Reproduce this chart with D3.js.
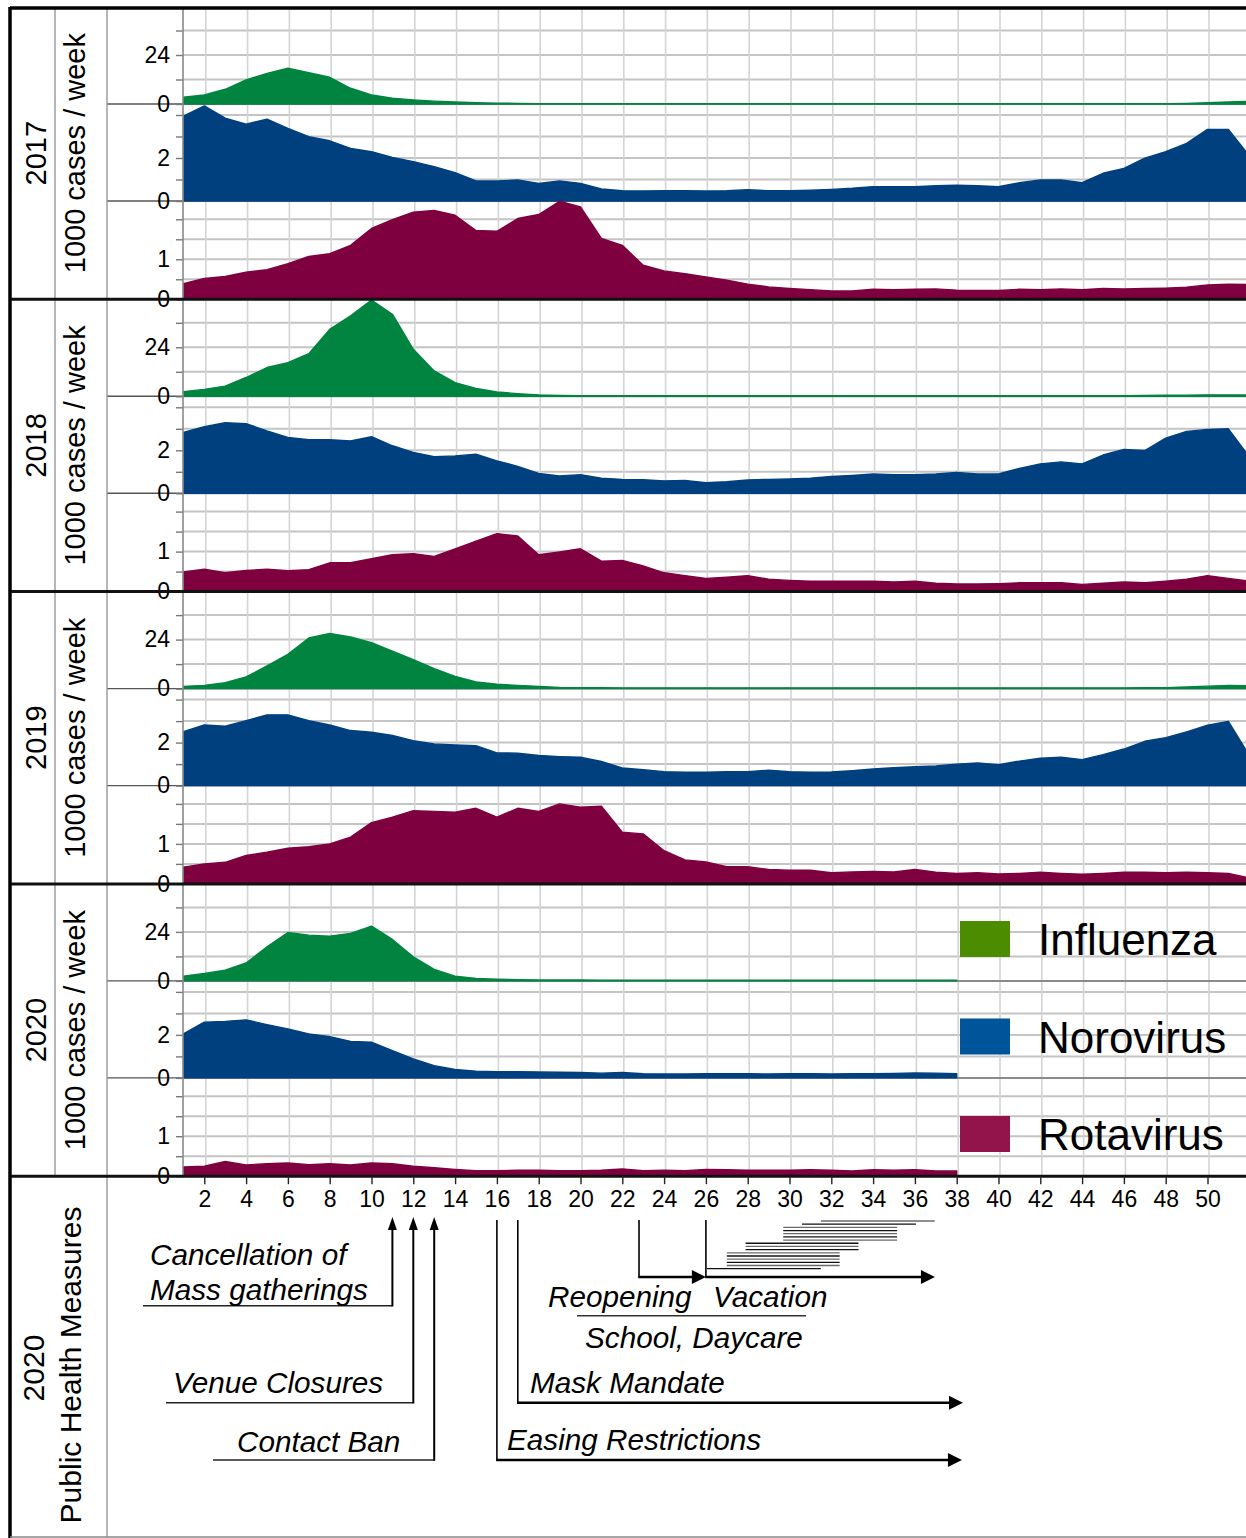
<!DOCTYPE html>
<html><head><meta charset="utf-8">
<script src="https://cdn.jsdelivr.net/npm/d3@7"></script>
<style>
body{margin:0;background:#fff}
svg{display:block}
text{font-family:"Liberation Sans", Arial, Helvetica, sans-serif}
</style>
</head><body>
<svg id="chart" width="1246" height="1538"></svg>
<script>
// ---------------- DATA (1000 cases / week, by calendar week) ----------------
const years = ["2017", "2018", "2019", "2020"];
const viruses = ["Influenza", "Norovirus", "Rotavirus"];
const xTickLabels = [2,4,6,8,10,12,14,16,18,20,22,24,26,28,30,32,34,36,38,40,42,44,46,48,50];

const influenza2017 = [3.3,4.4,7.2,11.8,15,17.5,15.3,13.1,7.7,4.4,2.8,2.0,1.4,1.0,0.6,0.4,0.3,0.2,0.2,0.2,0.2,0.2,0.2,0.2,0.2,0.2,0.2,0.2,0.2,0.2,0.2,0.2,0.2,0.2,0.2,0.2,0.2,0.2,0.2,0.2,0.2,0.2,0.2,0.2,0.2,0.2,0.2,0.2,0.3,0.6,1.0,1.3];
const norovirus2017 = [3.95,4.42,3.85,3.57,3.81,3.38,2.99,2.80,2.45,2.29,2.03,1.83,1.6,1.32,0.93,0.93,0.98,0.82,0.93,0.82,0.56,0.48,0.47,0.48,0.48,0.47,0.48,0.52,0.48,0.48,0.5,0.54,0.59,0.67,0.67,0.67,0.71,0.74,0.71,0.67,0.85,0.98,0.98,0.85,1.29,1.52,1.99,2.29,2.68,3.33,3.33,2.1];
const rotavirus2017 = [0.39,0.52,0.57,0.68,0.74,0.89,1.07,1.14,1.35,1.77,1.99,2.18,2.22,2.1,1.72,1.7,2.02,2.12,2.45,2.31,1.52,1.35,0.85,0.71,0.64,0.56,0.48,0.38,0.31,0.27,0.24,0.21,0.21,0.25,0.24,0.25,0.26,0.23,0.22,0.22,0.25,0.24,0.26,0.24,0.27,0.26,0.27,0.28,0.3,0.36,0.38,0.37];

const influenza2018 = [2.3,3.4,5.0,9.2,14.1,16.5,20.9,32.8,39.4,47.1,40.2,23,12.4,6.7,3.8,2.1,1.3,0.7,0.4,0.3,0.3,0.3,0.3,0.3,0.3,0.3,0.3,0.3,0.3,0.3,0.3,0.3,0.3,0.3,0.3,0.3,0.3,0.3,0.3,0.3,0.3,0.3,0.3,0.3,0.3,0.3,0.4,0.5,0.6,0.7,0.7,0.6];
const norovirus2018 = [2.83,3.1,3.28,3.24,2.9,2.6,2.49,2.49,2.44,2.63,2.21,1.9,1.7,1.74,1.82,1.51,1.25,0.92,0.81,0.86,0.7,0.65,0.63,0.58,0.6,0.49,0.54,0.62,0.65,0.67,0.7,0.78,0.83,0.9,0.87,0.87,0.9,0.97,0.9,0.9,1.16,1.37,1.46,1.37,1.78,2.04,1.99,2.57,2.88,2.97,3.0,1.7];
const rotavirus2018 = [0.49,0.56,0.47,0.53,0.56,0.52,0.55,0.72,0.72,0.82,0.92,0.95,0.88,1.07,1.26,1.45,1.39,0.92,0.99,1.07,0.76,0.78,0.64,0.47,0.4,0.33,0.36,0.4,0.31,0.28,0.26,0.26,0.26,0.26,0.24,0.26,0.21,0.19,0.19,0.2,0.22,0.22,0.22,0.18,0.21,0.24,0.22,0.26,0.31,0.4,0.33,0.26];

const influenza2019 = [1.1,1.6,2.9,5.7,11.1,16.8,24.8,27,25.3,22.5,18.3,14.2,9.8,6.0,3.3,2.1,1.6,1.1,0.6,0.5,0.4,0.3,0.3,0.3,0.3,0.3,0.3,0.3,0.3,0.3,0.3,0.3,0.3,0.3,0.3,0.3,0.3,0.3,0.3,0.3,0.3,0.3,0.3,0.3,0.3,0.3,0.4,0.5,0.8,1.2,1.5,1.4];
const norovirus2019 = [2.51,2.82,2.76,3.02,3.29,3.29,3.02,2.82,2.56,2.48,2.33,2.09,1.94,1.89,1.86,1.52,1.51,1.4,1.35,1.32,1.12,0.82,0.74,0.65,0.62,0.62,0.65,0.65,0.72,0.65,0.62,0.63,0.69,0.77,0.83,0.88,0.91,1.0,1.05,0.97,1.14,1.27,1.32,1.21,1.44,1.7,2.06,2.23,2.5,2.81,2.99,1.4];
const rotavirus2019 = [0.42,0.5,0.54,0.71,0.79,0.89,0.93,1.0,1.17,1.53,1.67,1.83,1.81,1.79,1.89,1.67,1.89,1.81,2.0,1.92,1.94,1.29,1.25,0.83,0.6,0.55,0.43,0.43,0.36,0.34,0.34,0.28,0.3,0.31,0.3,0.36,0.29,0.26,0.28,0.25,0.26,0.29,0.26,0.24,0.26,0.29,0.29,0.28,0.29,0.28,0.26,0.15];

const influenza2020 = [2.3,3.6,5.2,8.8,16.7,23.7,22.4,21.9,23.2,26.8,20.3,11.8,5.6,2.3,1.2,0.8,0.6,0.5,0.5,0.5,0.4,0.4,0.4,0.4,0.4,0.4,0.4,0.4,0.4,0.4,0.4,0.4,0.4,0.4,0.4,0.4,0.4,0.4];
const norovirus2020 = [2.05,2.59,2.63,2.7,2.48,2.28,2.05,1.92,1.7,1.66,1.27,0.88,0.57,0.39,0.31,0.29,0.29,0.28,0.26,0.25,0.22,0.25,0.19,0.18,0.18,0.19,0.19,0.19,0.18,0.19,0.19,0.18,0.19,0.2,0.21,0.23,0.22,0.2];
const rotavirus2020 = [0.23,0.25,0.37,0.28,0.31,0.33,0.29,0.31,0.28,0.33,0.31,0.25,0.21,0.17,0.14,0.14,0.15,0.15,0.14,0.14,0.15,0.18,0.14,0.15,0.14,0.17,0.16,0.15,0.15,0.15,0.16,0.15,0.13,0.16,0.15,0.16,0.13,0.13];

const fluTicks = [0, 24], fluGrid = [12, 24, 36];
const noroTicks = [0, 2], noroGrid = [1, 2, 3, 4];
const rotaTicks = [0, 1], rotaGrid = [0.5, 1, 1.5, 2];

// 2020 public health measures (calendar weeks)
const eventLabels = ["Cancellation of|Mass gatherings", "Venue Closures", "Contact Ban", "Easing Restrictions", "Mask Mandate", "Reopening", "Vacation"];
const eventWeeks = [11, 12, 13, 16, 17, 22.8, 26];
const eventEndWeeks = [null, null, null, 38.25, 38.3, 26, 36.96];
// summer school vacation of the 16 German states (start / end week)
const vacationStates = ["BW","BY","NI","HB","SN","ST","TH","HE","RP","SL","SH","HH","BB","BE","NW","MV"];
const vacationStart = [31.5,30.6,29.7,29.7,29.7,29.7,29.7,27.9,27.9,27.9,27.0,27.0,27.0,27.0,27.0,26.05];
const vacationEnd   = [36.95,36.05,35.15,35.15,35.15,35.15,35.15,33.3,33.3,33.3,32.4,32.4,32.4,32.4,32.4,31.5];

const seriesByYear = [
  [influenza2017, norovirus2017, rotavirus2017],
  [influenza2018, norovirus2018, rotavirus2018],
  [influenza2019, norovirus2019, rotavirus2019],
  [influenza2020, norovirus2020, rotavirus2020]
];
const areaColors = ["#00843f", "#00407f", "#7f003f"];
const legendColors = ["#4c8c00", "#00559a", "#93144b"];

// ---------------- LAYOUT ----------------
const svg = d3.select("#chart");
const W = 1246;
const plotL = 183, plotR = 1246;
const panelH = 292.3, top0 = 7;
const panelTop = i => top0 + panelH * i;
const chartBottom = panelTop(4);
const x = d3.scaleLinear().domain([1, 52]).range([183.4, 183.4 + 51 * 20.9]);

function yScales(i) {
  const t = panelTop(i);
  return [
    d3.scaleLinear().domain([0, 24]).range([t + 97, t + 48]),
    d3.scaleLinear().domain([0, 2]).range([t + 194, t + 151]),
    d3.scaleLinear().domain([0, 1]).range([t + panelH, t + panelH - 40])
  ];
}
const gridVals = [fluGrid, noroGrid, rotaGrid];
const tickVals = [fluTicks, noroTicks, rotaTicks];

svg.append("rect").attr("width", W).attr("height", 1538).attr("fill", "#fff");
svg.append("clipPath").attr("id", "plotclip").append("rect")
  .attr("x", plotL).attr("y", top0).attr("width", plotR - plotL).attr("height", chartBottom - top0);

const gGrid = svg.append("g");
// horizontal grid
years.forEach((yr, i) => {
  const ys = yScales(i);
  ys.forEach((s, k) => {
    gGrid.selectAll(null).data(gridVals[k]).enter().append("line")
      .attr("x1", plotL).attr("x2", plotR)
      .attr("y1", d => s(d)).attr("y2", d => s(d))
      .attr("stroke", "#c4c4c4").attr("stroke-width", 2);
  });
});
// vertical grid
gGrid.selectAll(null).data(xTickLabels).enter().append("line")
  .attr("x1", d => x(d) + 1.5).attr("x2", d => x(d) + 1.5)
  .attr("y1", top0).attr("y2", chartBottom)
  .attr("stroke", "#d4d4d4").attr("stroke-width", 1.6);

// zero baselines
years.forEach((yr, i) => {
  const ys = yScales(i);
  [0, 1].forEach(k => {
    svg.append("line").attr("x1", plotL).attr("x2", plotR)
      .attr("y1", ys[k](0)).attr("y2", ys[k](0))
      .attr("stroke", "#8a8a8a").attr("stroke-width", 2);
    svg.append("line").attr("x1", 107).attr("x2", plotL)
      .attr("y1", ys[k](0)).attr("y2", ys[k](0))
      .attr("stroke", "#555").attr("stroke-width", 1.4);
  });
});

// areas
const gAreas = svg.append("g").attr("clip-path", "url(#plotclip)");
years.forEach((yr, i) => {
  const ys = yScales(i);
  seriesByYear[i].forEach((vals, k) => {
    const s = ys[k];
    const area = d3.area().curve(d3.curveLinear)
      .x((d, j) => x(j + 1)).y0(s(0)).y1(d => s(d));
    gAreas.append("path").datum(vals).attr("d", area)
      .attr("fill", areaColors[k]).attr("stroke", areaColors[k])
      .attr("stroke-width", 1.4).attr("stroke-linejoin", "round");
  });
});

// y axes
years.forEach((yr, i) => {
  const ys = yScales(i);
  ys.forEach((s, k) => {
    const vals = Array.from(new Set(gridVals[k].concat(tickVals[k]))).filter(v => s(v) >= panelTop(i) - 1);
    const ax = d3.axisLeft(s).tickValues(vals).tickSize(7).tickPadding(6)
      .tickFormat(v => tickVals[k].includes(v) ? String(v) : "");
    const g = svg.append("g").attr("transform", `translate(${plotL},0)`).call(ax);
    g.select(".domain").remove();
    g.selectAll("line").attr("stroke", "#777").attr("stroke-width", 1.4);
    g.selectAll("text").attr("font-size", 23).attr("fill", "#000")
      .attr("font-family", '"Liberation Sans", Arial, sans-serif');
  });
});

// frame lines
svg.append("line").attr("x1", plotL).attr("x2", plotL).attr("y1", top0).attr("y2", chartBottom)
  .attr("stroke", "#888").attr("stroke-width", 1.6);
svg.append("line").attr("x1", 55).attr("x2", 55).attr("y1", top0).attr("y2", chartBottom)
  .attr("stroke", "#999").attr("stroke-width", 1.4);
svg.append("line").attr("x1", 107).attr("x2", 107).attr("y1", top0).attr("y2", 1537)
  .attr("stroke", "#999").attr("stroke-width", 1.4);
[1, 2, 3, 4].forEach(i => {
  svg.append("line").attr("x1", 10).attr("x2", W).attr("y1", panelTop(i)).attr("y2", panelTop(i))
    .attr("stroke", "#111").attr("stroke-width", 3);
});
svg.append("line").attr("x1", 10).attr("x2", W).attr("y1", top0 + 1).attr("y2", top0 + 1)
  .attr("stroke", "#000").attr("stroke-width", 3.5);
svg.append("line").attr("x1", 10).attr("x2", 10).attr("y1", top0).attr("y2", 1538)
  .attr("stroke", "#000").attr("stroke-width", 3.5);
svg.append("line").attr("x1", 10).attr("x2", W).attr("y1", 1537).attr("y2", 1537)
  .attr("stroke", "#888").attr("stroke-width", 1.5);

// x axis
const xAx = d3.axisBottom(x).tickValues(xTickLabels).tickSize(8).tickPadding(6).tickFormat(d3.format("d"));
const gx = svg.append("g").attr("transform", `translate(0,${chartBottom})`).call(xAx);
gx.select(".domain").remove();
gx.selectAll("line").attr("stroke", "#222").attr("stroke-width", 1.4);
gx.selectAll("text").attr("font-size", 23).attr("fill", "#000")
  .attr("font-family", '"Liberation Sans", Arial, sans-serif');

// rotated row labels
years.forEach((yr, i) => {
  const cy = panelTop(i) + panelH / 2;
  svg.append("text").attr("transform", `translate(46,${cy}) rotate(-90)`)
    .attr("text-anchor", "middle").attr("font-size", 29).text(yr);
  svg.append("text").attr("transform", `translate(85,${cy}) rotate(-90)`)
    .attr("text-anchor", "middle").attr("font-size", 29).text("1000 cases / week");
});
svg.append("text").attr("transform", `translate(44,1368) rotate(-90)`)
  .attr("text-anchor", "middle").attr("font-size", 30).text("2020");
svg.append("text").attr("transform", `translate(81,1365) rotate(-90)`)
  .attr("text-anchor", "middle").attr("font-size", 30).text("Public Health Measures");

// legend
const legY = d3.scaleLinear().domain([0, 2]).range([921, 1116]);
viruses.forEach((v, k) => {
  svg.append("rect").attr("x", 960).attr("y", legY(k)).attr("width", 50).attr("height", 36)
    .attr("fill", legendColors[k]);
  svg.append("text").attr("x", 1038).attr("y", legY(k) + 34).attr("font-size", 44)
    .attr("fill", "#000").text(v);
});

// ---------------- PUBLIC HEALTH MEASURES ----------------
const gm = svg.append("g");
const itext = (tx, ty, s) => gm.append("text").attr("x", tx).attr("y", ty)
  .attr("font-size", 29.7).attr("font-style", "italic").attr("fill", "#000").text(s);
const ln = (x1, y1, x2, y2, w, c) => gm.append("line").attr("x1", x1).attr("y1", y1)
  .attr("x2", x2).attr("y2", y2).attr("stroke", c || "#000").attr("stroke-width", w);
const upHead = (tx, ty) => gm.append("path")
  .attr("d", `M${tx},${ty} L${tx - 4.5},${ty + 13} L${tx + 4.5},${ty + 13} Z`).attr("fill", "#000");
const rightHead = (tx, ty) => gm.append("path")
  .attr("d", `M${tx},${ty} L${tx - 14},${ty - 7} L${tx - 14},${ty + 7} Z`).attr("fill", "#000");

const arrowTopY = 1217;
// cancellation / venue / contact (arrows pointing up to the week)
const underY = [1305.7, 1402.7, 1460];
const underStart = [143, 166, 213];
[0, 1, 2].forEach(k => {
  const vx = x(eventWeeks[k]);
  ln(underStart[k], underY[k], vx, underY[k], 1.5, "#222");
  ln(vx, underY[k] + 0.75, vx, arrowTopY + 12, 2);
  upHead(vx, arrowTopY);
});
const lab0 = eventLabels[0].split("|");
itext(150, 1265, lab0[0]);
itext(150, 1300, lab0[1]);
itext(173, 1393, eventLabels[1]);
itext(237, 1452, eventLabels[2]);

// easing restrictions & mask mandate
const startY = 1220;
[[3, 1460], [4, 1402.7]].forEach(([k, hy]) => {
  const vx = x(eventWeeks[k]);
  const ex = x(eventEndWeeks[k]);
  ln(vx, startY, vx, hy, 1.6);
  ln(vx - 0.8, hy, ex - 12, hy, 2.5);
  rightHead(ex, hy);
});
itext(507, 1450, eventLabels[3]);
itext(530, 1393, eventLabels[4]);

// reopening & vacation
const reoY = 1277;
[5, 6].forEach(k => {
  const vx = x(eventWeeks[k]);
  const ex = x(eventEndWeeks[k]);
  ln(vx, startY, vx, reoY, 1.6);
  ln(vx - 0.8, reoY, ex - 12, reoY, 2.5);
  rightHead(ex, reoY);
});
itext(548, 1307, eventLabels[5]);
itext(713, 1307, eventLabels[6]);
ln(577, 1315.7, 806, 1315.7, 1.5, "#333");
itext(585, 1348, "School, Daycare");

// vacation periods of the federal states
const vy = d3.scalePoint().domain(vacationStates).range([1221, 1268.7]);
gm.selectAll(null).data(vacationStates).enter().append("line")
  .attr("x1", (d, j) => x(vacationStart[j])).attr("x2", (d, j) => x(vacationEnd[j]))
  .attr("y1", d => vy(d)).attr("y2", d => vy(d))
  .attr("stroke", (d, j) => j % 2 === 0 ? "#6a6a6a" : "#111").attr("stroke-width", 1.3);
</script>
</body></html>
